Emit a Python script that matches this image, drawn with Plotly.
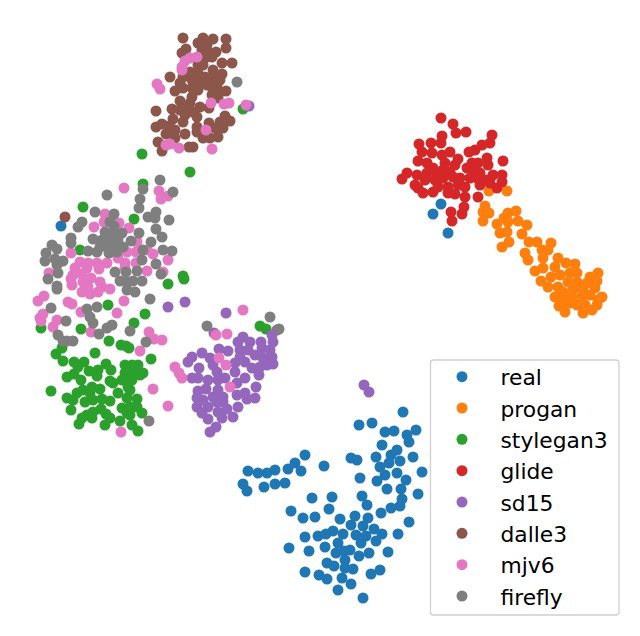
import plotly.graph_objects as go

labels = ["real", "progan", "stylegan3", "glide", "sd15", "dalle3", "mjv6", "firefly"]
colors = ["#1f77b4", "#ff7f0e", "#2ca02c", "#d62728", "#9467bd", "#8c564b", "#e377c2", "#7f7f7f"]

real = [(403,412),(372,423),(359,425),(385,432),(394,431),(416,430),(407,435),(409,442),(382,445),(397,450),(391,455),(376,457),(413,457),(351,458),(357,460),(305,455),(295,463),(400,461),(389,463),(380,467),(324,466),(288,469),(301,471),(275,470),(267,473),(258,473),(248,471),(422,472),(397,473),(385,475),(360,478),(406,480),(377,481),(243,484),(247,491),(264,487),(275,484),(285,483),(387,489),(401,489),(418,494),(362,496),(332,497),(312,498),(402,499),(367,505),(400,506),(391,508),(329,509),(291,511),(381,513),(355,516),(315,517),(303,518),(368,518),(340,519),(409,522),(351,525),(363,526),(374,529),(333,531),(326,534),(318,536),(343,534),(356,535),(382,534),(398,534),(366,536),(305,537),(376,541),(338,543),(361,543),(289,548),(325,547),(350,550),(344,551),(309,551),(336,553),(388,552),(369,553),(359,556),(345,560),(327,563),(334,566),(345,568),(353,569),(380,570),(305,572),(371,574),(319,575),(327,579),(342,578),(351,584),(338,590),(363,598),(441,204),(433,214),(448,233),(61,226)]
progan = [(507,191),(489,191),(485,206),(483,212),(489,213),(483,221),(516,211),(508,213),(504,218),(497,224),(508,222),(518,221),(527,225),(500,233),(507,232),(522,234),(509,242),(502,247),(529,242),(537,242),(551,243),(525,253),(528,260),(542,250),(548,250),(543,258),(558,258),(566,263),(575,264),(535,271),(543,268),(555,267),(551,277),(560,275),(570,273),(577,273),(598,273),(590,277),(541,281),(548,287),(558,287),(568,282),(577,282),(587,283),(597,281),(595,288),(563,292),(573,290),(583,290),(555,297),(562,298),(572,297),(582,297),(590,295),(602,297),(598,300),(559,306),(565,312),(570,303),(577,305),(585,305),(583,313),(592,310),(597,305),(565,302)]
stylegan3 = [(142,154),(190,172),(143,184),(243,109),(83,207),(134,219),(80,250),(183,276),(184,279),(168,284),(108,305),(145,314),(134,323),(41,328),(81,329),(109,341),(62,348),(56,354),(63,361),(95,353),(121,345),(126,346),(129,348),(151,359),(74,362),(84,362),(78,367),(106,364),(74,374),(67,377),(89,371),(98,370),(111,370),(97,376),(81,380),(110,381),(125,365),(132,365),(138,365),(143,373),(125,373),(133,373),(140,375),(122,380),(132,380),(128,387),(113,383),(118,393),(130,390),(51,391),(92,387),(83,390),(100,389),(77,393),(90,393),(67,398),(73,400),(85,402),(93,400),(102,399),(110,401),(127,398),(137,399),(71,410),(122,408),(130,407),(137,407),(93,412),(101,409),(87,415),(106,414),(127,413),(142,413),(82,418),(92,418),(110,418),(120,421),(130,415),(79,424),(105,425),(132,425),(138,431),(260,326),(266,329)]
glide = [(441,118),(453,124),(466,132),(456,133),(442,136),(492,135),(419,144),(431,143),(441,143),(490,143),(482,145),(475,150),(469,152),(422,152),(432,153),(450,152),(442,155),(418,161),(427,163),(458,159),(487,158),(503,161),(445,163),(455,165),(472,163),(478,163),(488,165),(433,168),(443,170),(450,172),(407,173),(417,175),(427,173),(437,175),(467,168),(473,170),(480,173),(493,175),(502,175),(402,179),(415,185),(425,180),(435,180),(443,178),(453,177),(460,178),(470,178),(477,178),(487,180),(502,182),(418,188),(423,193),(438,187),(433,192),(448,187),(458,185),(465,187),(480,185),(490,183),(497,188),(448,193),(455,194),(465,197),(478,197),(464,207),(451,212),(462,214),(452,221)]
sd15 = [(168,307),(185,302),(226,313),(214,333),(243,337),(238,342),(250,342),(261,342),(277,330),(272,335),(273,342),(219,349),(228,351),(202,353),(240,350),(248,350),(262,348),(270,350),(192,357),(188,362),(210,358),(240,357),(255,355),(263,358),(272,357),(213,365),(235,363),(245,362),(273,364),(199,368),(217,372),(235,372),(252,368),(260,367),(267,365),(259,375),(245,378),(192,378),(198,378),(208,380),(218,380),(225,378),(237,383),(256,387),(198,391),(206,389),(218,390),(245,393),(237,395),(255,398),(247,399),(197,398),(213,397),(223,397),(203,400),(217,402),(223,402),(238,407),(197,407),(208,407),(227,409),(202,413),(218,412),(222,418),(233,417),(208,419),(216,427),(210,432),(364,385),(369,392),(249,106)]
dalle3 = [(183,38),(203,38),(213,39),(226,39),(198,43),(207,45),(226,48),(186,49),(182,53),(202,50),(208,52),(216,52),(212,57),(205,58),(222,63),(232,63),(198,65),(203,65),(190,72),(213,70),(198,73),(170,77),(222,74),(183,77),(205,77),(213,78),(220,80),(180,83),(192,80),(198,82),(207,85),(217,85),(175,91),(183,88),(192,88),(198,90),(213,90),(226,91),(220,92),(212,95),(192,97),(180,101),(190,103),(218,98),(172,109),(180,110),(188,108),(200,107),(209,108),(156,111),(185,115),(193,112),(173,119),(183,122),(197,117),(225,116),(230,121),(220,122),(209,123),(156,127),(162,124),(169,126),(197,127),(215,128),(223,128),(166,134),(175,130),(185,134),(197,132),(175,138),(203,138),(210,138),(218,137),(158,142),(189,147),(193,147),(162,151),(65,217)]
mjv6 = [(197,57),(190,58),(185,61),(182,67),(182,70),(157,84),(160,89),(211,103),(224,104),(229,103),(246,105),(206,130),(166,145),(170,144),(179,148),(212,149),(124,188),(159,191),(168,196),(161,199),(105,214),(104,222),(119,223),(94,227),(129,228),(137,242),(71,253),(127,252),(136,252),(153,254),(147,250),(168,260),(118,258),(125,263),(80,262),(88,263),(97,263),(107,263),(136,263),(75,268),(87,268),(99,269),(125,268),(49,273),(73,275),(82,274),(147,271),(163,272),(71,279),(91,278),(72,285),(83,282),(100,282),(88,287),(102,287),(82,292),(90,294),(98,292),(110,289),(44,296),(38,301),(68,302),(72,304),(124,301),(81,312),(117,313),(43,314),(40,318),(41,321),(57,320),(53,327),(91,332),(149,332),(154,339),(162,340),(140,351),(175,367),(179,373),(182,378),(153,389),(168,406),(121,432),(243,310),(216,335),(227,334),(219,358),(226,365),(230,387)]
firefly = [(160,180),(143,189),(173,192),(107,195),(140,199),(139,208),(95,212),(114,214),(156,212),(148,217),(155,218),(169,220),(110,222),(82,222),(78,227),(114,226),(156,229),(139,233),(162,237),(105,232),(113,233),(122,233),(93,239),(102,240),(110,240),(118,240),(131,241),(71,238),(71,243),(151,242),(52,245),(57,249),(100,247),(107,247),(115,247),(123,247),(163,250),(172,251),(143,250),(88,251),(97,252),(109,253),(117,252),(46,253),(45,261),(55,259),(63,261),(57,265),(142,260),(156,264),(137,271),(58,273),(126,272),(115,272),(161,274),(48,279),(133,281),(142,281),(120,281),(127,282),(57,286),(57,289),(127,290),(135,292),(150,299),(51,308),(97,307),(87,309),(90,317),(93,323),(66,321),(112,325),(107,328),(99,334),(130,331),(58,335),(63,341),(73,341),(67,341),(146,342),(237,82),(270,317),(207,326),(279,329),(149,421)]

series = [real, progan, stylegan3, glide, sd15, dalle3, mjv6, firefly]

fig = go.Figure()
for name, color, pts in zip(labels, colors, series):
    fig.add_trace(go.Scatter(
        x=[p[0] for p in pts], y=[p[1] for p in pts], mode="markers", name=name,
        marker=dict(color=color, size=11, line=dict(width=0)),
    ))

x0, x1, y0, y1, r = 430.5, 619, 360, 615, 3
frame = (f"M{x0+r},{y0} L{x1-r},{y0} Q{x1},{y0} {x1},{y0+r} L{x1},{y1-r} Q{x1},{y1} {x1-r},{y1} "
         f"L{x0+r},{y1} Q{x0},{y1} {x0},{y1-r} L{x0},{y0+r} Q{x0},{y0} {x0+r},{y0} Z")

fig.update_layout(
    width=640, height=636, autosize=False,
    margin=dict(l=0, r=0, t=0, b=0),
    paper_bgcolor="white", plot_bgcolor="white",
    font=dict(family="DejaVu Sans", color="black"),
    xaxis=dict(range=[0, 640], visible=False),
    yaxis=dict(range=[636, 0], visible=False),
    shapes=[dict(type="path", path=frame, xref="x", yref="y",
                 line=dict(color="#d0d0d0", width=1.3), fillcolor="rgba(255,255,255,0.8)")],
    legend=dict(x=(x0 - 7) / 640, y=1 - (y0 - 4) / 636, xanchor="left", yanchor="top",
                bgcolor="rgba(0,0,0,0)", borderwidth=0,
                font=dict(family="DejaVu Sans", size=21.8, color="black"),
                itemwidth=67, itemsizing="trace", traceorder="normal"),
    showlegend=True,
)
fig.write_html("out.html", config={"displayModeBar": False},
               post_script="document.body.style.margin='0';document.body.style.overflow='hidden';")
